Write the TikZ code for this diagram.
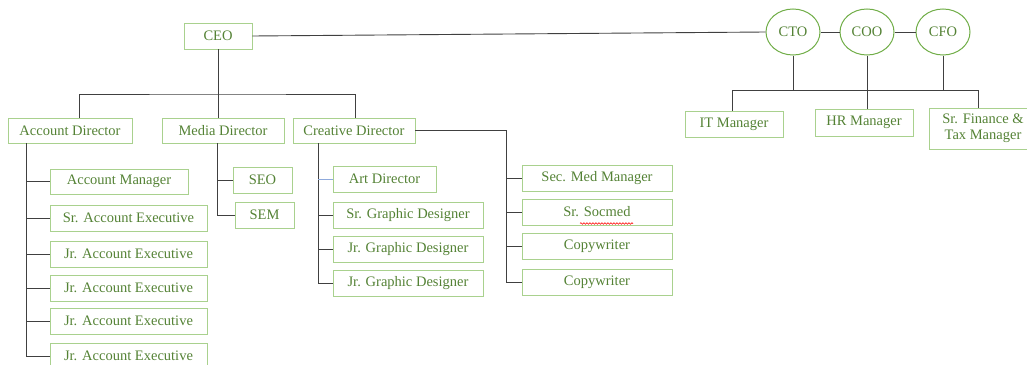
\documentclass[tikz,border=0pt]{standalone}
\usepackage{fontspec}
\setmainfont{Liberation Serif}
\usetikzlibrary{shapes.geometric,decorations.pathmorphing}
\definecolor{txtgreen}{RGB}{84,130,53}
\definecolor{boxgreen}{RGB}{169,209,142}
\definecolor{circgreen}{RGB}{112,173,71}
\definecolor{linegray}{RGB}{64,64,64}
\definecolor{artblue}{RGB}{143,170,220}
\begin{document}
\begin{tikzpicture}[x=1pt,y=-1pt,
  box/.style={draw=boxgreen,line width=0.9pt,text=txtgreen,inner sep=0pt,
    minimum height=26pt,font=\fontsize{14.5}{16}\selectfont},
  exec/.style={draw=circgreen,line width=1pt,text=txtgreen,ellipse,inner sep=0pt,
    minimum width=54pt,minimum height=46pt,font=\fontsize{14.5}{16}\selectfont},
  conn/.style={draw=linegray,line width=0.9pt},
  artline/.style={draw=artblue,line width=0.9pt}]
\useasboundingbox (0,0) rectangle (1027,364);

% nodes
\node[box,minimum width=68pt] (ceo) at (218,36) {CEO};
\node[box,minimum width=124pt,minimum height=25pt] (ad) at (70,130.5) {Account Director};
\node[box,minimum width=122pt,minimum height=25pt] (md) at (223,130.5) {Media Director};
\node[box,minimum width=122pt,minimum height=25pt] (cd) at (354,130.5) {Creative Director};

\node[box,minimum width=138pt,minimum height=25pt] (am) at (119,181.5) {Account Manager};
\node[box,minimum width=157pt] (sae) at (128.5,218) {Sr. Account Executive};
\node[box,minimum width=157pt] (jae1) at (128.5,254) {Jr. Account Executive};
\node[box,minimum width=157pt] (jae2) at (128.5,288) {Jr. Account Executive};
\node[box,minimum width=157pt] (jae3) at (128.5,321) {Jr. Account Executive};
\node[box,minimum width=157pt] (jae4) at (128.5,356) {Jr. Account Executive};

\node[box,minimum width=59pt] (seo) at (262.5,180) {SEO};
\node[box,minimum width=59pt] (sem) at (264.5,215) {SEM};

\node[box,minimum width=103pt] (art) at (384.5,179) {Art Director};
\node[box,minimum width=150pt] (sgd) at (408,215) {Sr. Graphic Designer};
\node[box,minimum width=150pt] (jgd1) at (408,249) {Jr. Graphic Designer};
\node[box,minimum width=150pt] (jgd2) at (408,283) {Jr. Graphic Designer};

\node[box,minimum width=150pt] (smm) at (597,178) {Sec. Med Manager};
\node[box,minimum width=150pt] (ssm) at (597,212) {Sr. Socmed};
\node[box,minimum width=150pt] (cw1) at (597,246) {Copywriter};
\node[box,minimum width=150pt] (cw2) at (597,282) {Copywriter};

\node[exec] (cto) at (793,32) {CTO};
\node[exec] (coo) at (867,32) {COO};
\node[exec] (cfo) at (943,32) {CFO};

\node[box,minimum width=98pt] (it) at (734,124) {IT Manager};
\node[box,minimum width=98pt,minimum height=27pt] (hr) at (864,122.5) {HR Manager};
\node[box,minimum width=108pt,minimum height=41pt,align=center] (sf) at (983,128.5) {Sr. Finance \&\\Tax Manager};

% spell-check squiggle
\draw[red,line width=0.6pt,decorate,decoration={snake,segment length=3pt,amplitude=0.8pt}]
  ([xshift=-17pt,yshift=-11.5pt]ssm.center) -- ([xshift=36pt,yshift=-11.5pt]ssm.center);

% top connectors
\draw[conn] (ceo.east) -- (cto.west);
\draw[conn] (cto.east) -- (coo.west);
\draw[conn] (coo.east) -- (cfo.west);

\coordinate (b1) at (218,94);
\draw[conn] (ceo.south) -- (ceo.south |- md.north);
\draw[conn] ([xshift=9pt]ad.north) |- (b1) -| ([xshift=1pt]cd.north);

% account
\coordinate (av) at ([xshift=-44pt]ad.south);
\draw[conn] (av) |- (jae4.west);
\foreach \n in {am,sae,jae1,jae2,jae3}{\draw[conn] (av |- \n.west) -- (\n.west);}

% media
\coordinate (mv) at ([xshift=-6pt]md.south);
\draw[conn] (mv) |- (sem.west);
\draw[conn] (mv |- seo.west) -- (seo.west);

% creative
\coordinate (cv) at ([xshift=-36pt]cd.south);
\draw[conn] (cv) |- (jgd2.west);
\draw[artline] (cv |- art.west) -- (art.west);
\draw[conn] (cv |- sgd.west) -- (sgd.west);
\draw[conn] (cv |- jgd1.west) -- (jgd1.west);

\coordinate (rc) at (506,0);
\draw[conn] (cd.east) -| (rc |- cw2.west) -- (cw2.west);
\foreach \n in {smm,ssm,cw1}{\draw[conn] (rc |- \n.west) -- (\n.west);}

% executives
\coordinate (bl) at (732,90);
\coordinate (br) at (978,90);
\draw[conn] (bl |- it.north) -- (bl) -- (br) -- (br |- sf.north);
\draw[conn] (cto.south) -- (cto.south |- bl);
\draw[conn] (cfo.south) -- (cfo.south |- bl);
\draw[conn] (coo.south) -- (coo.south |- hr.north);
\end{tikzpicture}
\end{document}
